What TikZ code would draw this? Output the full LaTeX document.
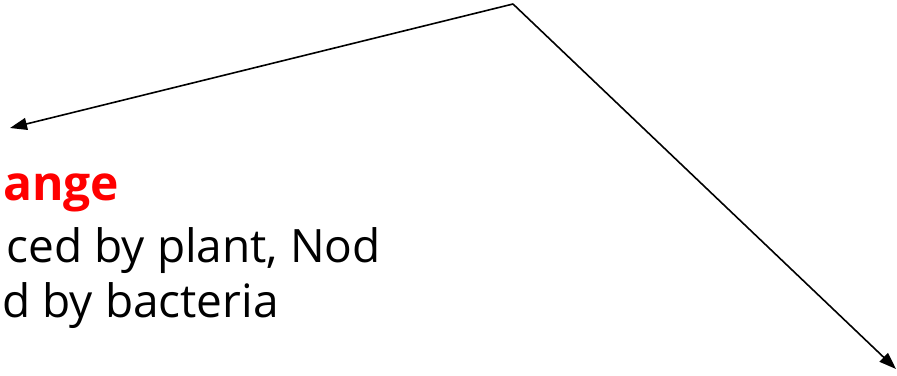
\documentclass[tikz,border=0pt]{standalone}
\usepackage{fontspec}
\setmainfont{Open Sans}
\usetikzlibrary{arrows.meta}
\tikzset{
  pointer/.style={-{Triangle[length=17pt,width=12pt]},line width=1.6pt},
  bodytext/.style={anchor=base east,inner sep=0pt,font=\fontsize{46}{50}\selectfont},
}
\begin{document}
\begin{tikzpicture}[x=1pt,y=-1pt]

   \useasboundingbox (0,0) rectangle (897,375);
   \clip (0,0) rectangle (897,375);

   \coordinate (apex) at (513,4);
   \coordinate (lefttip) at (10,128);
   \coordinate (righttip) at (896,369);

   \draw[pointer] (apex) -- (lefttip);
   \draw[pointer] (apex) -- (righttip);

   \node[anchor=base west,inner sep=0pt,text=red,font=\fontsize{48}{52}\selectfont\bfseries] (title) at (3,200) {ange};
   \node[bodytext] (lineone) at (381,262) {ced by plant, Nod};
   \node[bodytext] (linetwo) at (279,317) {d by bacteria};

\end{tikzpicture}
\end{document}
